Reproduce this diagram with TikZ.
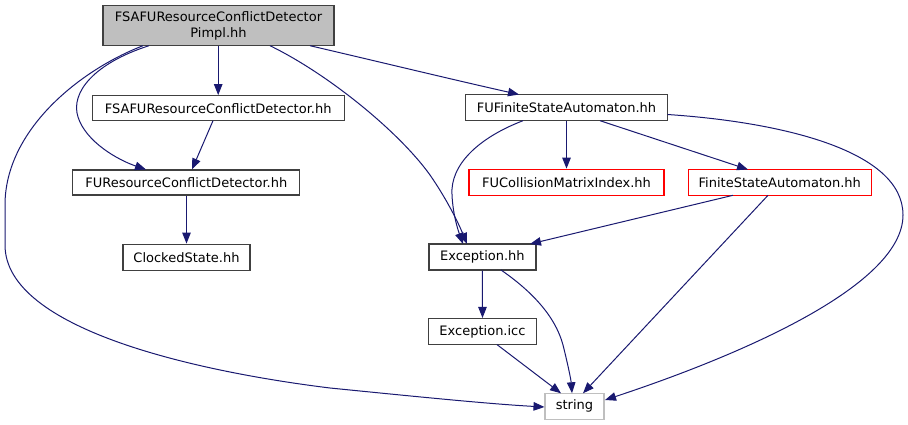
\documentclass[tikz,border=0pt]{standalone}
\usepackage{fontspec}
\setmainfont{DejaVu Sans}
\usetikzlibrary{arrows.meta}
\definecolor{edgecol}{HTML}{191970}
\definecolor{boxcol}{HTML}{404040}
\definecolor{graycol}{HTML}{BFBFBF}
\begin{document}
\begin{tikzpicture}[x=1pt,y=-1pt,
  box/.style={draw=boxcol,line width=1.3pt,fill=white,inner sep=0pt,align=center,
    font=\fontsize{13}{16}\selectfont},
  redbox/.style={box,draw=red},
  graybox/.style={box,draw=graycol},
  topbox/.style={box,fill=graycol},
  dep/.style={draw=edgecol,line width=1pt,-{Triangle[length=11pt,width=8.5pt]}}]
\useasboundingbox (0,0) rectangle (908,425);
\node[topbox,minimum width=231pt,minimum height=40pt] (top) at (218.5,25.7) {FSAFUResourceConflictDetector\\Pimpl.hh};
\node[box,minimum width=252pt,minimum height=25pt] (fsafu) at (218.2,108.2) {FSAFUResourceConflictDetector.hh};
\node[box,minimum width=227pt,minimum height=25pt] (furcd) at (186.3,182.5) {FUResourceConflictDetector.hh};
\node[box,minimum width=127pt,minimum height=26pt] (clk) at (186.5,257.2) {ClockedState.hh};
\node[box,minimum width=202pt,minimum height=26pt] (fufsa) at (566.5,107.5) {FUFiniteStateAutomaton.hh};
\node[redbox,minimum width=195pt,minimum height=26pt] (fucm) at (566.5,182.3) {FUCollisionMatrixIndex.hh};
\node[redbox,minimum width=183pt,minimum height=26pt] (fsa) at (779.8,182.3) {FiniteStateAutomaton.hh};
\node[box,minimum width=107pt,minimum height=26pt] (exc) at (482.4,257) {Exception.hh};
\node[box,minimum width=108pt,minimum height=26pt] (icc) at (482.5,331.6) {Exception.icc};
\node[graybox,minimum width=59pt,minimum height=26pt] (str) at (574.5,406.3) {string};
% top
\draw[dep] (top.south -| fsafu) -- (fsafu.north);
\draw[dep] (149,45.7) .. controls (95,63) and (70,92) .. (78,117) .. controls (86,142) and (118,160) .. (146,169.5);
\draw[dep] (143,45.7) .. controls (80,70) and (5,130) .. (5,205) -- (5,245) .. controls (5,330) and (200,372) .. (330,388) .. controls (420,397) and (490,404) .. (544.5,407);
\draw[dep] (270,45.7) .. controls (330,75) and (400,133) .. (430,175) .. controls (446,198) and (458,222) .. (467,244);
\draw[dep] (310,45.7) .. controls (380,62) and (450,79) .. (519,94.5);
% fsafu
\draw[dep] (213,120.7) -- (192,169.5);
\draw[dep] (furcd.south -| clk) -- (clk.north);
% fufsa
\draw[dep] (523,120.7) .. controls (478,138) and (450,165) .. (452,195) .. controls (453,215) and (458,230) .. (463,244);
\draw[dep] (fufsa.south) -- (fucm.north);
\draw[dep] (600,120.7) -- (748,169.5);
\draw[dep] (667.5,114.5) .. controls (780,122) and (903,150) .. (903,215) .. controls (903,290) and (720,362) .. (605,400);
% fsa
\draw[dep] (733,195.3) -- (530,244);
\draw[dep] (768,195.3) -- (583,393.3);
% exception
\draw[dep] (exc.south) -- (icc.north);
\draw[dep] (501,270) .. controls (530,290) and (555,315) .. (563,345) .. controls (568,365) and (571,380) .. (572,393.3);
\draw[dep] (497,344.6) -- (561,393.3);
\end{tikzpicture}
\end{document}
